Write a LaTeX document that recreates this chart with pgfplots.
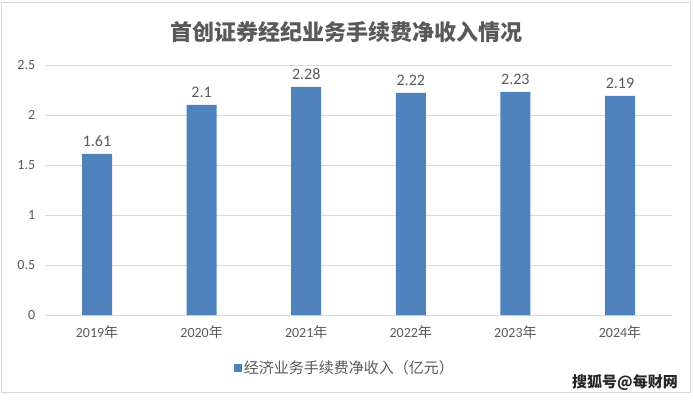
\documentclass[border=0pt]{standalone}
\usepackage{fontspec}
\usepackage{pgfplots}
\pgfplotsset{compat=1.18}
\setmainfont{Carlito}
\newfontfamily\cjk{Noto Sans CJK SC}
\definecolor{barblue}{HTML}{4F81BD}
\definecolor{txtgray}{HTML}{595959}
\definecolor{gridgray}{HTML}{D9D9D9}
\begin{document}
\begin{tikzpicture}[x=1pt,y=1pt]
\path[use as bounding box] (0,0) rectangle (693,399);
\draw[gridgray] (1.5,7) rectangle (690,397);
\node[text=txtgray, font=\cjk\bfseries\fontsize{22}{24}\selectfont] at (346,367) {首创证券经纪业务手续费净收入情况};
\begin{axis}[
  at={(44.7pt,84pt)}, anchor=south west,
  scale only axis, width=627.6pt, height=250pt,
  ybar, bar width=30pt,
  xmin=-0.5, xmax=5.5, ymin=0, ymax=2.5,
  xtick={0,1,2,3,4,5},
  xticklabels={2019{\cjk 年},2020{\cjk 年},2021{\cjk 年},2022{\cjk 年},2023{\cjk 年},2024{\cjk 年}},
  ytick={0,0.5,1,1.5,2,2.5},
  axis x line*=bottom, axis y line*=left,
  y axis line style={draw=none},
  x axis line style={draw=gridgray, -},
  major tick length=0pt,
  ymajorgrids, grid style={draw=gridgray},
  /pgf/number format/assume math mode=true,
  tick label style={font=\fontsize{14}{16}\selectfont, text=txtgray},
  xticklabel style={yshift=-7pt},
  yticklabel style={xshift=-6pt},
  nodes near coords,
  every node near coord/.append style={font=\fontsize{16}{18}\selectfont, text=txtgray, anchor=base, yshift=7pt},
  legend style={at={(0.4785,-0.212)}, anchor=center, draw=none, fill=none,
    font=\cjk\fontsize{15}{17}\selectfont, text=txtgray},
  legend image code/.code={\fill[#1] (0pt,-3.5pt) rectangle (7.5pt,4pt);},
]
\addplot[fill=barblue, draw=none] coordinates {(0,1.61) (1,2.1) (2,2.28) (3,2.22) (4,2.23) (5,2.19)};
\legend{经济业务手续费净收入（亿元）}
\end{axis}
\node[font=\cjk\bfseries\fontsize{15}{17}\selectfont, text=black!85] at (625,16) {搜狐号@每财网};
\end{tikzpicture}
\end{document}
